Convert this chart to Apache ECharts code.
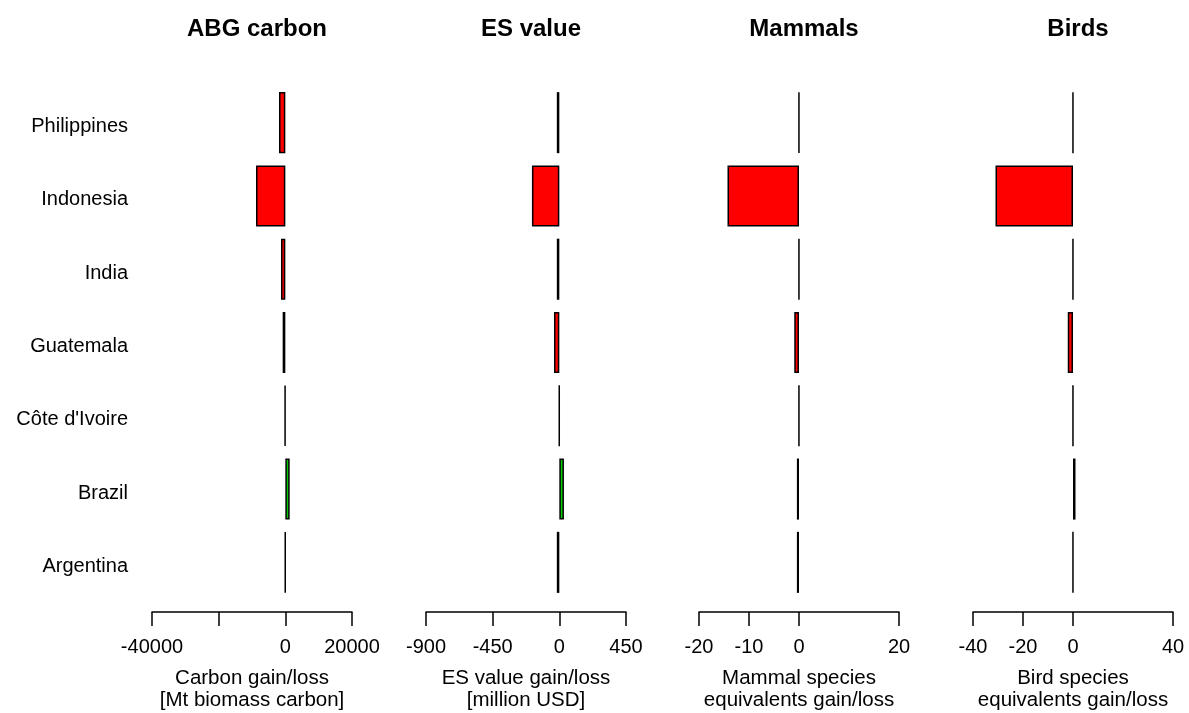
<!DOCTYPE html>
<html>
<head>
<meta charset="utf-8">
<script src="https://cdn.jsdelivr.net/npm/echarts@6/dist/echarts.min.js"></script>
<style>html,body{margin:0;padding:0;background:#fff;}#c{width:1189px;height:713px;}</style>
</head>
<body>
<div id="c"></div>
<script>
const countries = ["Philippines", "Indonesia", "India", "Guatemala", "Côte d'Ivoire", "Brazil", "Argentina"];
const panelTitles = ["ABG carbon", "ES value", "Mammals", "Birds"];
const axisNames = ["Carbon gain/loss\n[Mt biomass carbon]", "ES value gain/loss\n[million USD]", "Mammal species\nequivalents gain/loss", "Bird species\nequivalents gain/loss"];
const carbon = [-1900, -8800, -1300, -800, -150, 1300, -60];
const esValue = [-17, -185, -17, -36, -1, 31, -17];
const mammals = [-0.02, -14.3, -0.02, -0.95, -0.02, -0.42, -0.42];
const birds = [-0.03, -31, -0.03, -2.1, -0.03, 1.0, -0.03];
const axisMin = [-40000, -900, -20, -40];
const axisMax = [20000, 450, 20, 40];
const tickValues = [[-40000, -20000, 0, 20000], [-900, -450, 0, 450], [-20, -10, 0, 20], [-40, -20, 0, 40]];
const labelValues = [[-40000, 0, 20000], [-900, -450, 0, 450], [-20, -10, 0, 20], [-40, -20, 0, 40]];
const seriesData = [carbon, esValue, mammals, birds];

const FONT = "Liberation Sans, Arial, sans-serif";
const lefts = [152, 426, 699, 973];
const W = 200;
const chart = echarts.init(document.getElementById('c'));
const grids = [], xAxes = [], yAxes = [], series = [], titles = [];
for (let i = 0; i < 4; i++) {
  grids.push({left: lefts[i], width: W, top: 86, bottom: 114, containLabel: false, outerBoundsMode: 'none'});
  titles.push({text: panelTitles[i], left: lefts[i] + W / 2, top: 12, textAlign: 'center',
    textStyle: {fontFamily: FONT, fontSize: 24, fontWeight: 'bold', color: '#000'}});
  xAxes.push({
    type: 'value', gridIndex: i, min: axisMin[i], max: axisMax[i], offset: 13,
    axisLine: {show: true, onZero: false, lineStyle: {color: '#000', width: 1.5}},
    axisTick: {show: true, customValues: tickValues[i], length: 14, inside: false, lineStyle: {color: '#000', width: 1.5}},
    axisLabel: {show: true, customValues: labelValues[i], margin: 25, fontFamily: FONT, fontSize: 20, color: '#000',
      showMinLabel: true, showMaxLabel: true, formatter: v => String(v)},
    splitLine: {show: false},
    name: axisNames[i], nameLocation: 'middle', nameGap: 55,
    nameTextStyle: {fontFamily: FONT, fontSize: 20.5, lineHeight: 22, color: '#000'}
  });
  yAxes.push({
    type: 'category', gridIndex: i, data: countries, inverse: true,
    axisLine: {show: false}, axisTick: {show: false},
    axisLabel: {show: i === 0, margin: 24, fontFamily: FONT, fontSize: 20, color: '#000', verticalAlign: 'top', lineHeight: 8}
  });
  series.push({
    type: 'bar', xAxisIndex: i, yAxisIndex: i, barCategoryGap: '16.7%',
    data: seriesData[i].map(v => ({value: v, itemStyle: {color: v < 0 ? '#FF0000' : '#00CD00'}})),
    itemStyle: {borderColor: '#000', borderWidth: 1.5},
    emphasis: {disabled: true}, animation: false
  });
}
chart.setOption({animation: false, title: titles, grid: grids, xAxis: xAxes, yAxis: yAxes, series: series});
</script>
</body>
</html>
